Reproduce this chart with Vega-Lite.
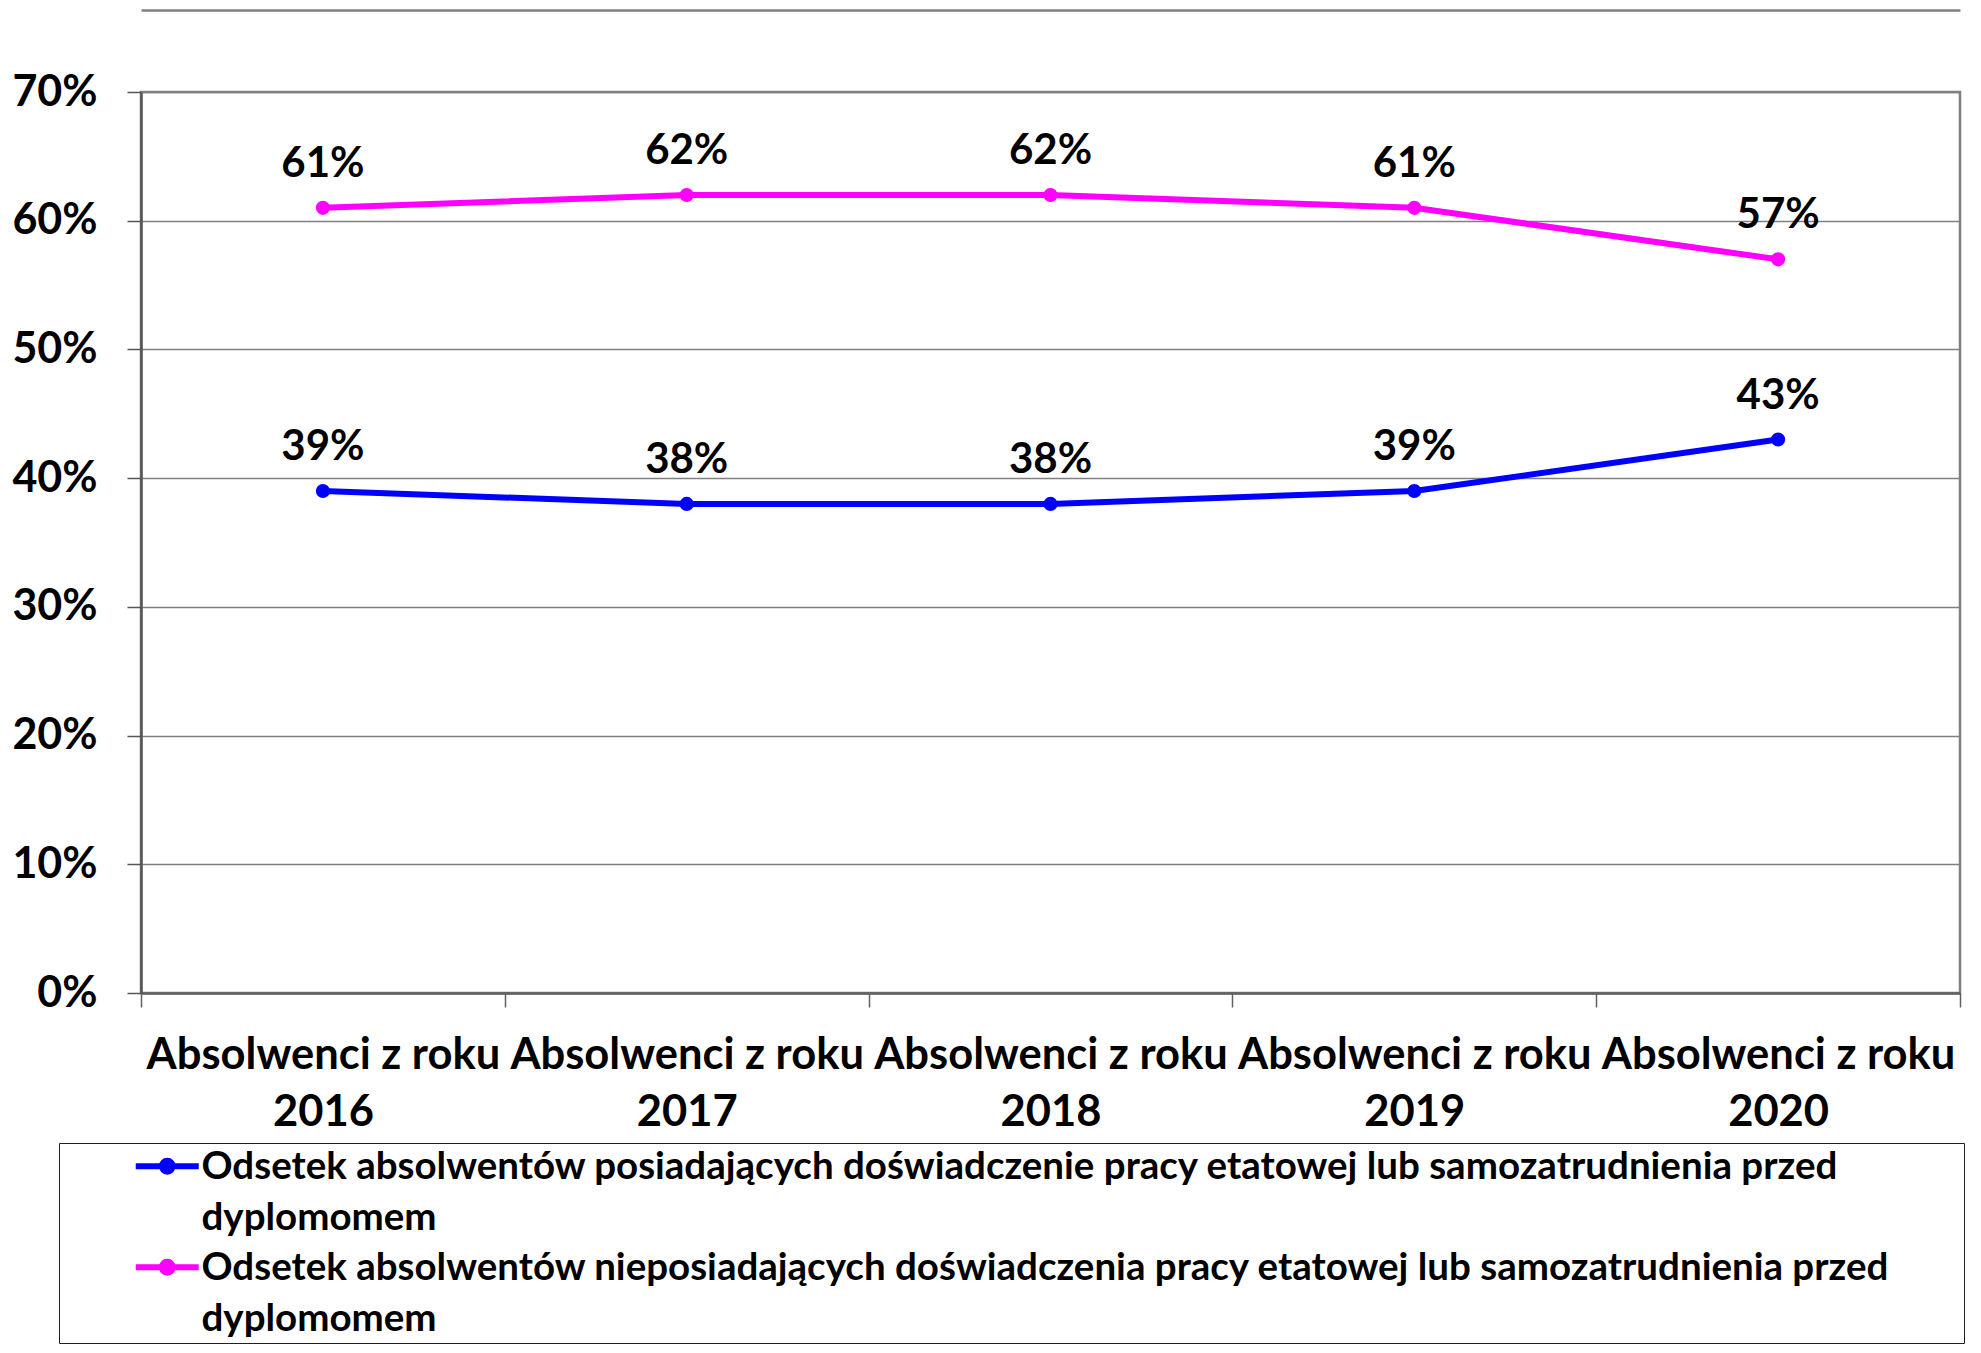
{
  "$schema": "https://vega.github.io/schema/vega-lite/v6.json",
  "autosize": {"type": "none"},
  "width": 1819,
  "height": 901,
  "padding": {"left": 141, "top": 92, "right": 21, "bottom": 360},
  "background": "white",
  "config": {
    "font": "Lato",
    "view": {"stroke": "#808080", "strokeWidth": 2.5},
    "axis": {"labelFont": "Lato", "labelFontWeight": "bold", "labelFontSize": 43, "labelColor": "black"},
    "legend": {"labelFont": "Lato", "labelFontWeight": "bold", "labelFontSize": 38.5, "labelColor": "black"}
  },
  "data": {
    "values": [
      {"kat": "Absolwenci z roku\n2016", "seria": "Odsetek absolwentów posiadających doświadczenie pracy etatowej lub samozatrudnienia przed dyplomomem", "v": 0.39},
      {"kat": "Absolwenci z roku\n2017", "seria": "Odsetek absolwentów posiadających doświadczenie pracy etatowej lub samozatrudnienia przed dyplomomem", "v": 0.38},
      {"kat": "Absolwenci z roku\n2018", "seria": "Odsetek absolwentów posiadających doświadczenie pracy etatowej lub samozatrudnienia przed dyplomomem", "v": 0.38},
      {"kat": "Absolwenci z roku\n2019", "seria": "Odsetek absolwentów posiadających doświadczenie pracy etatowej lub samozatrudnienia przed dyplomomem", "v": 0.39},
      {"kat": "Absolwenci z roku\n2020", "seria": "Odsetek absolwentów posiadających doświadczenie pracy etatowej lub samozatrudnienia przed dyplomomem", "v": 0.43},
      {"kat": "Absolwenci z roku\n2016", "seria": "Odsetek absolwentów nieposiadających doświadczenia pracy etatowej lub samozatrudnienia przed dyplomomem", "v": 0.61},
      {"kat": "Absolwenci z roku\n2017", "seria": "Odsetek absolwentów nieposiadających doświadczenia pracy etatowej lub samozatrudnienia przed dyplomomem", "v": 0.62},
      {"kat": "Absolwenci z roku\n2018", "seria": "Odsetek absolwentów nieposiadających doświadczenia pracy etatowej lub samozatrudnienia przed dyplomomem", "v": 0.62},
      {"kat": "Absolwenci z roku\n2019", "seria": "Odsetek absolwentów nieposiadających doświadczenia pracy etatowej lub samozatrudnienia przed dyplomomem", "v": 0.61},
      {"kat": "Absolwenci z roku\n2020", "seria": "Odsetek absolwentów nieposiadających doświadczenia pracy etatowej lub samozatrudnienia przed dyplomomem", "v": 0.57}
    ]
  },
  "encoding": {
    "y": {
      "field": "v", "type": "quantitative", "title": null,
      "scale": {"domain": [0, 0.7], "nice": false},
      "axis": {
        "values": [0, 0.1, 0.2, 0.3, 0.4, 0.5, 0.6, 0.7], "format": ".0%",
        "grid": true, "gridColor": "#808080", "gridWidth": 1.5,
        "domainColor": "#555555", "domainWidth": 2.5,
        "tickColor": "#555555", "tickWidth": 1.5, "tickSize": 14,
        "labelPadding": 30
      }
    },
    "color": {
      "field": "seria", "type": "nominal",
      "scale": {
        "domain": [
          "Odsetek absolwentów posiadających doświadczenie pracy etatowej lub samozatrudnienia przed dyplomomem",
          "Odsetek absolwentów nieposiadających doświadczenia pracy etatowej lub samozatrudnienia przed dyplomomem"
        ],
        "range": ["#0000FF", "#FF00FF"]
      },
      "legend": {
        "orient": "none", "legendX": -82, "legendY": 1051,
        "direction": "vertical",
        "title": " ", "titleOrient": "right", "titlePadding": 70,
        "strokeColor": "#202020", "padding": 4,
        "symbolType": "M-3.15,0H3.15M0.54,0A0.54,0.54,0,1,1,-0.54,0A0.54,0.54,0,1,1,0.54,0Z",
        "symbolSize": 400, "symbolStrokeWidth": 6,
        "symbolOffset": 85, "labelOffset": 15,
        "labelBaseline": "top", "rowPadding": 10,
        "labelLimit": 3000,
        "labelExpr": "[replace(datum.label, ' dyplomomem', ''), 'dyplomomem']",
        "encode": {
          "symbols": {"update": {"fill": {"scale": "color", "field": "value"}, "stroke": {"scale": "color", "field": "value"}}},
          "labels": {"update": {"dy": {"value": -17}, "lineHeight": {"value": 51}}}
        }
      }
    }
  },
  "layer": [
    {
      "mark": {"type": "line", "strokeWidth": 6},
      "encoding": {
        "x": {
          "field": "kat", "type": "nominal", "sort": null, "title": null,
          "scale": {"type": "band", "paddingInner": 0, "paddingOuter": 0},
          "axis": {
            "labelAngle": 0, "tickBand": "extent", "grid": false,
            "domainColor": "#606060", "domainWidth": 2.5,
            "tickColor": "#606060", "tickWidth": 1.5, "tickSize": 14,
            "labelFontSize": 43.5, "labelLimit": 1000, "labelOverlap": false,
            "labelPadding": 27, "labelBaseline": "top", "labelLineHeight": 57,
            "labelExpr": "split(datum.label, '\\n')"
          }
        }
      }
    },
    {
      "mark": {"type": "point", "filled": true, "opacity": 1, "size": 200},
      "encoding": {
        "x": {"field": "kat", "type": "nominal", "sort": null, "title": null,
          "axis": {"orient": "top", "offset": 82, "domain": true, "domainColor": "#808080", "domainWidth": 2.5, "ticks": false, "labels": false, "grid": false}}
      }
    },
    {
      "mark": {"type": "text", "dy": -31, "baseline": "alphabetic", "fontSize": 42, "fontWeight": "bold", "font": "Lato", "color": "black"},
      "encoding": {
        "x": {"field": "kat", "type": "nominal", "sort": null, "axis": null},
        "text": {"field": "v", "type": "quantitative", "format": ".0%"},
        "color": {"value": "black"}
      }
    }
  ],
  "resolve": {"axis": {"x": "independent"}}
}
